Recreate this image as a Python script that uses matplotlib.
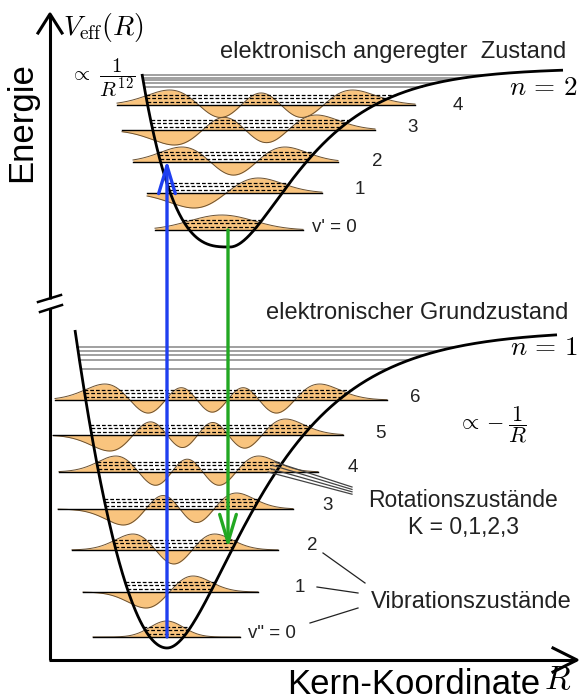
import numpy as np
import matplotlib.pyplot as plt
from numpy.polynomial.hermite import hermval

plt.rcParams['font.family'] = ['Liberation Sans', 'DejaVu Sans']
plt.rcParams['mathtext.fontset'] = 'cm'

# picture frame: x = Kern-Koordinate, y = energy drawn downwards (pixel-like units)
# ground state potential (n = 1): minimum, depth, right Morse slope, left wall width/power
ground_min_x, ground_min_y = 167, 648
ground_depth, ground_a, ground_wl, ground_pl = 318, 0.0125, 92, 2
ground_curve_x = (75, 557)
ground_levels = [637, 592, 550, 509, 472, 435, 400]
ground_line_x0 = [93, 83, 72, 58, 59, 53, 55]
ground_line_x1 = [240, 258, 278, 293, 318, 343, 387]
ground_labels = ['v" = 0', '1', '2', '3', '4', '5', '6']
ground_label_x = [248, 300, 312, 328, 353, 380, 415]
ground_label_y = [633, 588, 545, 505, 468, 433, 398]
ground_upper = [347, 351, 355, 360, 369]

# excited state potential (n = 2)
exc_min_x, exc_min_y = 230, 247
exc_depth, exc_a, exc_wl, exc_pl = 179, 0.0153, 89, 3
exc_curve_x = (142, 563)
exc_levels = [230, 193, 162, 130, 105]
exc_line_x0 = [155, 147, 133, 122, 117]
exc_line_x1 = [303, 322, 338, 375, 415]
exc_labels = ["v' = 0", '1', '2', '3', '4']
exc_label_x = [312, 360, 377, 413, 458]
exc_label_y = [227, 190, 161, 127, 105]
exc_upper = [75, 77.5, 80, 83, 86.5]

rot_offsets = [3.3, 6.7, 10.0]

orange = '#F9C47E'
edge = '#6a5030'


def energy(x, x0, depth, a, wl, pl):
    dx = np.asarray(x, dtype=float) - x0
    right = depth * (1 - np.exp(-a * np.clip(dx, 0, None))) ** 2
    left = depth * (np.clip(-dx, 0, None) / wl) ** pl
    return np.where(dx >= 0, right, left)


def turning(E, x0, depth, a, wl, pl):
    E = min(E, depth * 0.999)
    xl = x0 - wl * (E / depth) ** (1.0 / pl)
    xr = x0 - np.log(1 - np.sqrt(E / depth)) / a
    return xl, xr


def psi(v, xi):
    c = np.zeros(v + 1)
    c[v] = 1
    return hermval(xi, c) * np.exp(-xi ** 2 / 2)


def draw_state(ax, x0, ymin, pars, xrange, levels, lx0, lx1, labels, lab_x, lab_y,
               upper, amp):
    # vibrational levels with wavefunctions and rotational sub-levels
    for v, (yl, a0, a1) in enumerate(zip(levels, lx0, lx1)):
        xl, xr = turning(ymin - yl, x0, *pars)
        xc = (xl + xr) / 2
        s = (xr - xl) / 2 / np.sqrt(2 * v + 1)
        x = np.linspace(a0, a1, 500)
        w = psi(v, (x - xc) / s)
        w = w / np.abs(w).max() * amp
        ax.fill_between(x, yl, yl - w, color=orange, lw=0, zorder=1)
        ax.plot(x, yl - w, color=edge, lw=0.7, zorder=2)
        for off in rot_offsets:
            yr = yl - off
            rl, rr = turning(ymin - yr, x0, *pars)
            ax.plot([rl, rr], [yr, yr], color='k', lw=0.9, dashes=(3, 1.6), zorder=3)
        ax.plot([a0, a1], [yl, yl], color='k', lw=1.0, zorder=3)
    for i, (t, tx, ty) in enumerate(zip(labels, lab_x, lab_y)):
        ha = 'left' if i == 0 else 'center'
        ax.text(tx, ty, t, fontsize=13.5, ha=ha, va='center', color='#222222')
    # dense levels close to dissociation
    for yu in upper:
        ul, ur = turning(ymin - yu, x0, *pars)
        ax.plot([ul, ur], [yu, yu], color='#999999', lw=1.3, zorder=1)
    # potential curve
    xx = np.linspace(xrange[0], xrange[1], 600)
    ax.plot(xx, ymin - energy(xx, x0, *pars), color='k', lw=2.0, zorder=4,
            solid_capstyle='butt')


fig = plt.figure(figsize=(5.8, 7), dpi=100)
ax = fig.add_axes([0, 0, 1, 1])
ax.set_xlim(0, 580)
ax.set_ylim(700, 0)
ax.axis('off')

gpars = (ground_depth, ground_a, ground_wl, ground_pl)
epars = (exc_depth, exc_a, exc_wl, exc_pl)
draw_state(ax, ground_min_x, ground_min_y, gpars, ground_curve_x, ground_levels,
           ground_line_x0, ground_line_x1, ground_labels, ground_label_x, ground_label_y,
           ground_upper, 16)
draw_state(ax, exc_min_x, exc_min_y, epars, exc_curve_x, exc_levels,
           exc_line_x0, exc_line_x1, exc_labels, exc_label_x, exc_label_y,
           exc_upper, 15)

# transitions: absorption (blue) and emission (green)
ax.annotate('', xy=(ground_min_x, exc_levels[2] - 2), xytext=(ground_min_x, ground_levels[0]),
            arrowprops=dict(arrowstyle='->,head_length=1.0,head_width=0.3', color='#1f3ff0',
                            lw=2.4, mutation_scale=20, shrinkA=0, shrinkB=0), zorder=5)
ax.annotate('', xy=(exc_min_x - 2, ground_levels[2] - 2), xytext=(exc_min_x - 2, exc_levels[0]),
            arrowprops=dict(arrowstyle='->,head_length=1.0,head_width=0.3', color='#22a822',
                            lw=2.4, mutation_scale=20, shrinkA=0, shrinkB=0), zorder=5)

# axes with break
ax.plot([50, 50], [660, 308], color='k', lw=2.2, solid_capstyle='butt')
ax.plot([50, 50], [299, 15], color='k', lw=2.2, solid_capstyle='butt')
ax.plot([38, 50, 62], [33, 14, 33], color='k', lw=2.2)
ax.plot([38, 61], [302, 295], color='k', lw=1.8)
ax.plot([40, 62], [312, 305], color='k', lw=1.8)
ax.plot([49, 576], [660, 660], color='k', lw=2.2, solid_capstyle='butt')
ax.plot([553, 577, 553], [648, 660, 672], color='k', lw=2.2)

# leader lines
rl = [turning(ground_min_y - (ground_levels[4] - o), ground_min_x, *gpars)[1] - 8
      for o in [10.0, 6.7, 3.3, 0.0]]
ry = [ground_levels[4] - o for o in [10.0, 6.7, 3.3, 0.0]]
for i, (sx, sy) in enumerate(zip(rl, ry)):
    ax.plot([sx, 352], [sy, 487 + 2.4 * i], color='#444444', lw=0.9, zorder=4)
for (sx, sy), (ex, ey) in zip([(323, 553), (317, 587), (310, 623)],
                              [(365, 583), (358, 593), (358, 608)]):
    ax.plot([sx, ex], [sy, ey], color='#222222', lw=0.9)

# texts
ax.text(22, 122, 'Energie', rotation=90, fontsize=25, ha='center', va='center')
ax.text(63, 28, r'$V_{\mathrm{eff}}(R)$', fontsize=20, ha='left', va='center')
ax.text(70, 78, r'$\propto\ \dfrac{1}{R^{12}}$', fontsize=15, ha='left', va='center')
ax.text(393, 52, 'elektronisch angeregter  Zustand', fontsize=17, ha='center', va='center',
        color='#222222')
ax.text(578, 88, r'$n\,=\,2$', fontsize=19.5, ha='right', va='center')
ax.text(417, 313, 'elektronischer Grundzustand', fontsize=17, ha='center', va='center',
        color='#222222')
ax.text(578, 348, r'$n\,=\,1$', fontsize=19.5, ha='right', va='center')
ax.text(492, 425, r'$\propto -\dfrac{1}{R}$', fontsize=16, ha='center', va='center')
ax.text(463, 514, 'Rotationszustände\nK = 0,1,2,3', fontsize=16.5, ha='center', va='center',
        linespacing=1.2, color='#222222')
ax.text(471, 602, 'Vibrationszustände', fontsize=17, ha='center', va='center',
        color='#222222')
ax.text(287, 684, 'Kern-Koordinate', fontsize=25, ha='left', va='center')
ax.text(544, 681, r'$R$', fontsize=24, ha='left', va='center')

fig.savefig('out.png', dpi=100)
